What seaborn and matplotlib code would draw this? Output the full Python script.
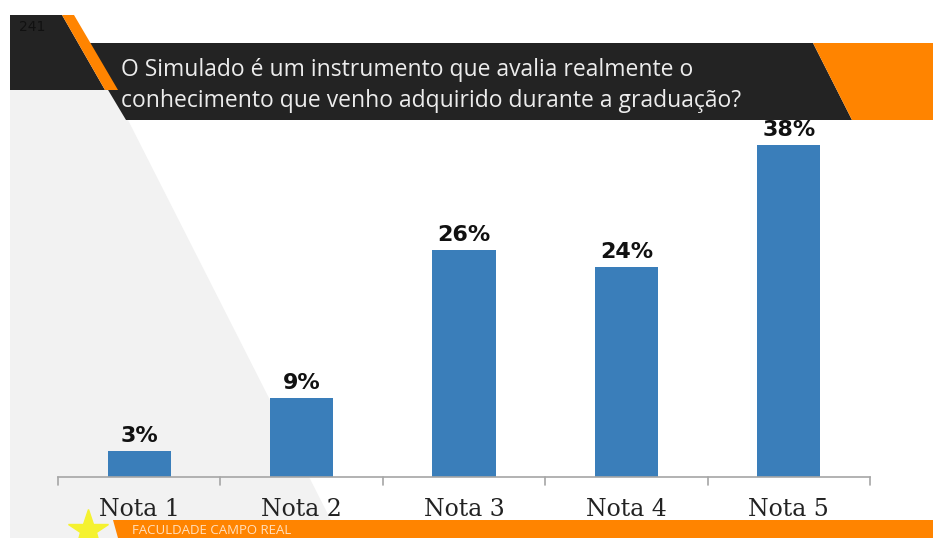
import numpy as np
import pandas as pd
import matplotlib
matplotlib.use("Agg")
import matplotlib.pyplot as plt
from matplotlib.patches import Polygon
import seaborn as sns

categories = ["Nota 1", "Nota 2", "Nota 3", "Nota 4", "Nota 5"]
values = [3, 9, 26, 24, 38]
value_labels = ["3%", "9%", "26%", "24%", "38%"]
title_lines = ["O Simulado é um instrumento que avalia realmente o",
               "conhecimento que venho adquirido durante a graduação?"]
page_number = "241"
footer = "FACULDADE CAMPO REAL"

BLUE = "#3a7eba"
ORANGE = "#ff8400"
DARK = "#232323"
LIGHT = "#f2f2f2"

sns.set_theme(style="white")

W, H = 933, 538
fig = plt.figure(figsize=(W / 100, H / 100), dpi=100)
fig.patch.set_facecolor("white")

# ---------------------------------------------------
# slide decoration (pixel coordinates)
# ---------------------------------------------------
bg = fig.add_axes([0, 0, 1, 1], zorder=0)
bg.set_xlim(0, W)
bg.set_ylim(H, 0)
bg.axis("off")

bg.add_patch(Polygon([(10, 90), (110, 90), (128, 120), (340, 538), (10, 538)],
                     closed=True, color=LIGHT, lw=0))
bg.add_patch(Polygon([(10, 15), (62, 15), (105, 90), (10, 90)],
                     closed=True, color=DARK, lw=0))
bg.add_patch(Polygon([(80, 43), (813, 43), (852, 120), (126, 120)],
                     closed=True, color=DARK, lw=0))
bg.add_patch(Polygon([(62, 15), (74, 15), (118, 90), (105, 90)],
                     closed=True, color=ORANGE, lw=0))
bg.add_patch(Polygon([(813, 43), (933, 43), (933, 120), (852, 120)],
                     closed=True, color=ORANGE, lw=0))
bg.add_patch(Polygon([(113, 520), (933, 520), (933, 538), (118, 538)],
                     closed=True, color=ORANGE, lw=0))
bg.plot([88], [530], marker="*", color="#f5f230", markersize=30, mec="#f5f230")
bg.text(132, 531, footer, color="#ffe0bf", fontsize=9.5, va="center",
        family="Open Sans")
bg.text(19, 27, page_number, color="#111111", fontsize=10, va="center")
for i, line in enumerate(title_lines):
    bg.text(121, 70 + i * 31, line, color="#ececec", fontsize=16.5,
            va="center", family=["Open Sans", "DejaVu Sans"])

# ---------------------------------------------------
# bar chart
# ---------------------------------------------------
df = pd.DataFrame({"cat": categories, "val": values})
x0, x1, base, top = 58, 870, 477, 120
ax = fig.add_axes([x0 / W, 1 - base / H, (x1 - x0) / W, (base - top) / H], zorder=1)
ax.patch.set_alpha(0)
sns.barplot(data=df, x="cat", y="val", color=BLUE, width=0.39,
            saturation=1, linewidth=0, ax=ax)
ax.set_xlim(-0.5, 4.5)
ax.set_ylim(0, (base - top) / 8.74)
ax.set_xlabel("")
ax.set_ylabel("")
ax.set_yticks([])
for s in ["top", "right", "left"]:
    ax.spines[s].set_visible(False)
ax.spines["bottom"].set_color("#a6a6a6")
ax.spines["bottom"].set_linewidth(1.2)
ax.set_xticks(range(len(categories)))
ax.set_xticklabels(categories, family="DejaVu Serif", fontsize=17, color="#222222")
ax.tick_params(axis="x", length=0, pad=15)
for b in np.arange(-0.5, 5.0, 1.0):
    ax.plot([b, b], [0, -0.9], color="#a6a6a6", lw=1.2, clip_on=False)
for i, (v, lab) in enumerate(zip(values, value_labels)):
    ax.text(i, v + 0.6, lab, ha="center", va="bottom", fontsize=16,
            fontweight="heavy", color="#111111")

fig.savefig("out.png", dpi=100)
